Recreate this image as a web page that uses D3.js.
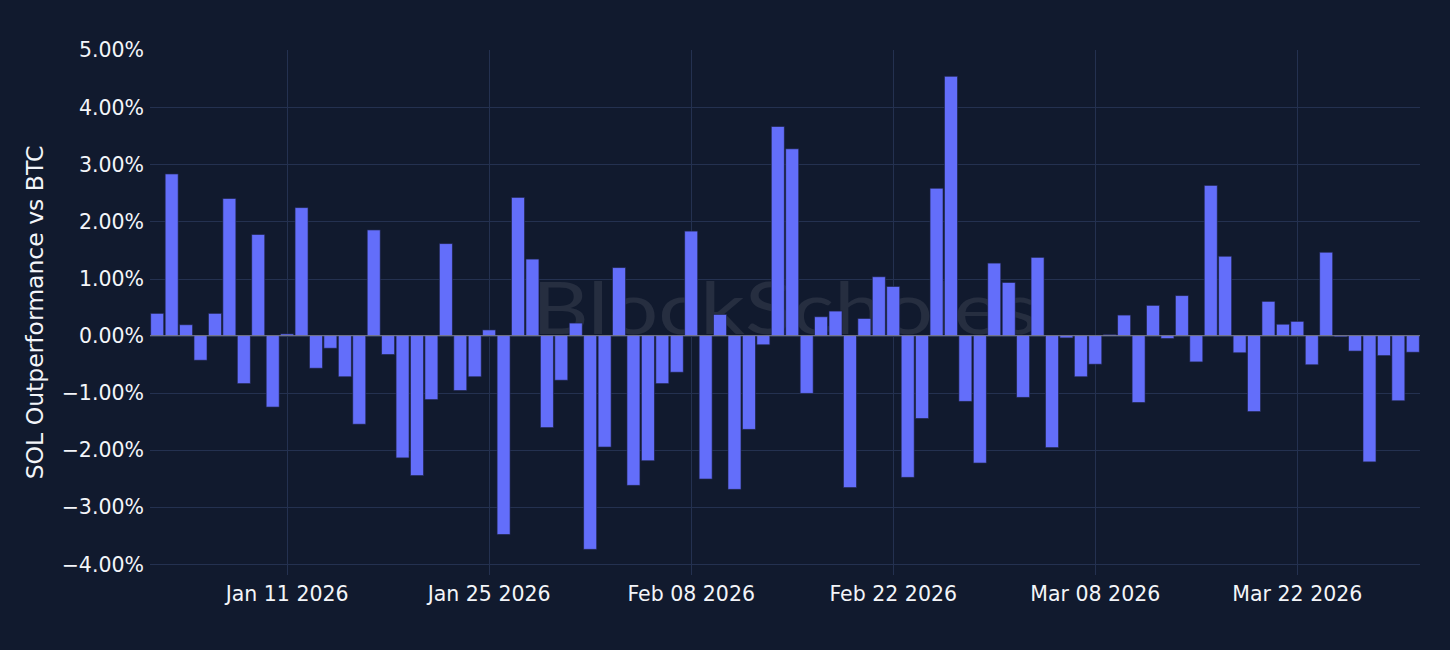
<!DOCTYPE html>
<html><head><meta charset="utf-8">
<script src="https://cdn.jsdelivr.net/npm/d3@7"></script>
<style>html,body{margin:0;padding:0;background:#111a2e;} svg{display:block}</style>
</head><body><svg id="chart" width="1450" height="650"></svg>
<script>
// ---- data ----
const startDate = "2026-01-02";
const endDate = "2026-03-30";
const values = [
  0.39, 2.83, 0.19, -0.43, 0.39, 2.40, -0.84, 1.77, -1.25, 0.03,
  2.24, -0.57, -0.22, -0.72, -1.55, 1.85, -0.33, -2.14, -2.45, -1.12,
  1.61, -0.96, -0.72, 0.10, -3.48, 2.42, 1.34, -1.61, -0.78, 0.22,
  -3.74, -1.95, 1.19, -2.62, -2.19, -0.84, -0.64, 1.83, -2.51, 0.37,
  -2.69, -1.64, -0.16, 3.66, 3.27, -1.01, 0.33, 0.43, -2.66, 0.30,
  1.03, 0.86, -2.48, -1.45, 2.58, 4.54, -1.15, -2.23, 1.27, 0.93,
  -1.08, 1.37, -1.96, -0.04, -0.72, -0.50, 0.02, 0.36, -1.17, 0.53,
  -0.05, 0.70, -0.46, 2.63, 1.39, -0.30, -1.33, 0.60, 0.20, 0.25,
  -0.51, 1.46, -0.02, -0.27, -2.21, -0.35, -1.14, -0.29
];
const tickDates = ["2026-01-11","2026-01-25","2026-02-08","2026-02-22","2026-03-08","2026-03-22"];
const yTicks = [-4, -3, -2, -1, 0, 1, 2, 3, 4, 5];
const yDomain = [-4.19, 5.0];
const yTitle = "SOL Outperformance vs BTC";
const watermarkText = "BlockScholes";

// ---- layout ----
const W = 1450, H = 650;
const m = {left: 150, right: 30, top: 50, bottom: 75};
const bg = "#111a2e", gridColor = "#243150", textColor = "#f3f5f9", barColor = "#636efa";
const font = "'DejaVu Sans', Verdana, sans-serif";

const dates = d3.utcDay.range(new Date(startDate + "T00:00:00Z"), d3.utcDay.offset(new Date(endDate + "T00:00:00Z"), 1));
const data = dates.map((d, i) => ({date: d, v: values[i]}));

const svg = d3.select("#chart");
svg.append("rect").attr("width", W).attr("height", H).attr("fill", bg);

const x = d3.scaleUtc()
  .domain([d3.utcHour.offset(dates[0], -12), d3.utcHour.offset(dates[dates.length - 1], 12)])
  .range([m.left, W - m.right]);
const y = d3.scaleLinear().domain(yDomain).range([H - m.bottom, m.top]);
const dayW = x(d3.utcDay.offset(dates[0], 1)) - x(dates[0]);
const barW = dayW * 0.9;

// watermark
svg.append("text")
  .attr("x", 532)
  .attr("y", 334)
  .attr("font-family", "Lato, 'Open Sans', sans-serif")
  .attr("font-size", 72)
  .attr("font-weight", 400)
  .attr("textLength", 506)
  .attr("lengthAdjust", "spacingAndGlyphs")
  .attr("fill", "rgba(255,255,255,0.09)")
  .text(watermarkText);

// grid
const ticksX = tickDates.map(s => new Date(s + "T00:00:00Z"));
const gY = svg.append("g");
gY.selectAll("line").data(yTicks.filter(t => t < yDomain[1])).join("line")
  .attr("x1", m.left).attr("x2", W - m.right)
  .attr("y1", d => Math.round(y(d)) + 0.5).attr("y2", d => Math.round(y(d)) + 0.5)
  .attr("stroke", gridColor).attr("stroke-width", 1);
const gX = svg.append("g");
gX.selectAll("line").data(ticksX).join("line")
  .attr("x1", d => Math.round(x(d)) + 0.5).attr("x2", d => Math.round(x(d)) + 0.5)
  .attr("y1", m.top).attr("y2", H - m.bottom)
  .attr("stroke", gridColor).attr("stroke-width", 1);

// bars
svg.append("g").selectAll("rect").data(data).join("rect")
  .attr("x", d => x(d.date) - barW / 2)
  .attr("width", barW)
  .attr("y", d => y(Math.max(0, d.v)))
  .attr("height", d => Math.abs(y(d.v) - y(0)))
  .attr("fill", barColor)
  .attr("stroke", "rgba(30,36,70,0.8)")
  .attr("stroke-width", 0.8);

// zero line
svg.append("line")
  .attr("x1", m.left).attr("x2", W - m.right)
  .attr("y1", y(0)).attr("y2", y(0))
  .attr("stroke", "rgba(150,150,160,0.75)").attr("stroke-width", 1);

// y axis labels
const fmt = d3.format(".2f");
svg.append("g").selectAll("text").data(yTicks).join("text")
  .attr("x", m.left - 6)
  .attr("y", d => y(d))
  .attr("dy", "0.36em")
  .attr("text-anchor", "end")
  .attr("font-family", font).attr("font-size", 20.5)
  .attr("fill", textColor)
  .text(d => fmt(d) + "%");

// x axis labels
const xfmt = d3.utcFormat("%b %d %Y");
svg.append("g").selectAll("text").data(ticksX).join("text")
  .attr("x", d => x(d))
  .attr("y", 601)
  .attr("text-anchor", "middle")
  .attr("font-family", font).attr("font-size", 20.5)
  .attr("fill", textColor)
  .text(d => xfmt(d));

// y title
svg.append("text")
  .attr("transform", `translate(43, ${(m.top + H - m.bottom) / 2}) rotate(-90)`)
  .attr("text-anchor", "middle")
  .attr("font-family", font).attr("font-size", 23.5)
  .attr("fill", textColor)
  .text(yTitle);
</script></body></html>
